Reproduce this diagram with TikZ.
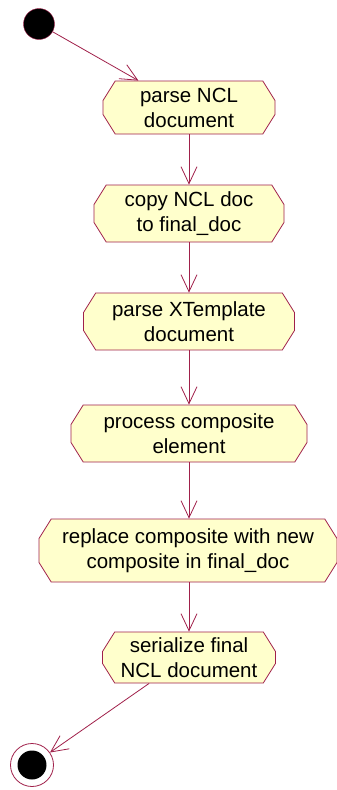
\documentclass[tikz,border=0pt]{standalone}
\usepackage{fontspec}
\setmainfont{Liberation Sans}
\usetikzlibrary{shapes.misc,arrows.meta}
\definecolor{roseLine}{HTML}{A0204A}
\definecolor{roseFill}{HTML}{FFFFCC}

\begin{document}
\begin{tikzpicture}[x=1pt,y=-1pt,%%
  activityStyle/.style={chamfered rectangle,chamfered rectangle angle=32,%%
    chamfered rectangle xsep=10pt,draw=roseLine,fill=roseFill,line width=0.8pt,%%
    align=center,inner sep=0pt,font=\fontsize{20.5}{25}\selectfont},%%
  arrowStyle/.style={-{Straight Barb[length=17pt,width=16pt,line width=0.8pt]},%%
    draw=roseLine,line width=0.8pt},%%
  startStyle/.style={circle,draw=roseLine,fill=black,minimum size=31pt,inner sep=0pt},%%
  endStyle/.style={circle,draw=roseLine,line width=0.8pt,fill=white,minimum size=43pt,%%
    inner sep=0pt,path picture={\fill[black] (path picture bounding box.center) circle (14.5pt);}}%%
]
%%
%% Page size of the picture.
\useasboundingbox (0,0) rectangle (337,790);
%%
%% Start and end states.
\node[startStyle] (start) at (39,24) {};
\node[endStyle] (end) at (32,765) {};
%%
%% The activities.
\node[activityStyle,minimum width=172pt,minimum height=53pt] (parseNcl) at (189,107.5)
  {parse NCL\\document};
\node[activityStyle,minimum width=190pt,minimum height=57pt] (copyNcl) at (189,213.5)
  {copy NCL doc\\to final\_doc};
\node[activityStyle,minimum width=211pt,minimum height=57pt] (parseTemplate) at (189,321.5)
  {parse XTemplate\\document};
\node[activityStyle,minimum width=236pt,minimum height=57pt] (processComposite) at (189,433.5)
  {process composite\\element};
\node[activityStyle,minimum width=298pt,minimum height=63pt] (replaceComposite) at (188,550.5)
  {replace composite with new\\composite in final\_doc};
\node[activityStyle,minimum width=173pt,minimum height=51pt] (serializeNcl) at (189,657.5)
  {serialize final\\NCL document};
%%
%% The transitions.
\draw[arrowStyle] (start) -- (parseNcl.152);
\draw[arrowStyle] (parseNcl.south) -- (parseNcl.south |- copyNcl.north);
\draw[arrowStyle] (copyNcl.south) -- (copyNcl.south |- parseTemplate.north);
\draw[arrowStyle] (parseTemplate.south) -- (parseTemplate.south |- processComposite.north);
\draw[arrowStyle] (processComposite.south) -- (processComposite.south |- replaceComposite.north);
\draw[arrowStyle] (serializeNcl.north |- replaceComposite.south) -- (serializeNcl.north);
\draw[arrowStyle] (serializeNcl.213) -- (end);
\end{tikzpicture}
\end{document}
